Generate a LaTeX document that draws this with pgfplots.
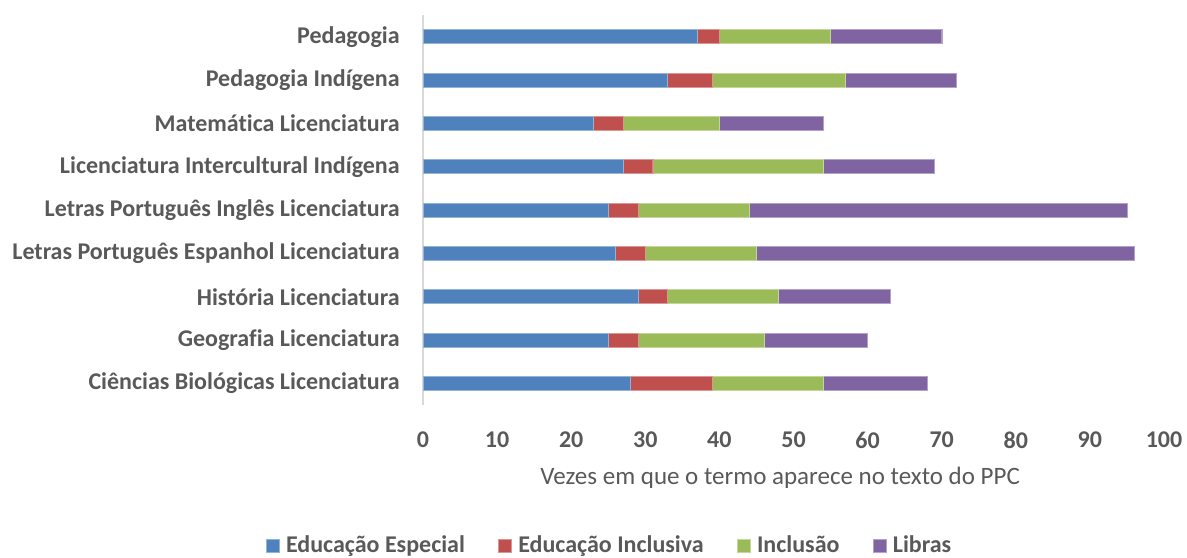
\documentclass[border=0pt]{standalone}
\usepackage{pgfplots}
\pgfplotsset{compat=1.18}
\usepackage{fontspec}
\setmainfont{Carlito}[Ligatures=NoCommon]
\definecolor{txt}{HTML}{595959}
\definecolor{cEE}{HTML}{4F81BD}
\definecolor{cEI}{HTML}{C0504D}
\definecolor{cIN}{HTML}{9BBB59}
\definecolor{cLI}{HTML}{8064A2}
\definecolor{axisgray}{HTML}{D9D9D9}
\begin{document}
\begin{tikzpicture}
\useasboundingbox (0,0) rectangle (593.5pt,278.5pt);
\begin{axis}[
  at={(211.5pt,76pt)}, anchor=south west,
  scale only axis, width=370.5pt, height=195pt,
  xbar stacked, bar width=7pt,
  xmin=0, xmax=100, ymin=-0.5, ymax=8.5,
  xtick={0,10,...,100},
  ytick={0,...,8},
  /pgf/number format/assume math mode=true,
  yticklabels={Ciências Biológicas Licenciatura,Geografia Licenciatura,História Licenciatura,Letras Português Espanhol Licenciatura,Letras Português Inglês Licenciatura,Licenciatura Intercultural Indígena,Matemática Licenciatura,Pedagogia Indígena,Pedagogia},
  axis x line*=bottom,
  x axis line style={draw=none},
  axis y line*=left,
  y axis line style={axisgray, line width=0.8pt, -},
  major tick length=0pt,
  tick style={draw=none},
  xticklabel style={font=\bfseries\fontsize{12}{14}\selectfont, text=txt, anchor=center, yshift=-17.5pt},
  yticklabel style={font=\bfseries\fontsize{12}{14}\selectfont, text=txt, anchor=east, inner sep=0pt, xshift=-11.5pt},
  xlabel={Vezes em que o termo aparece no texto do PPC},
  xlabel style={font=\fontsize{12.5}{14}\selectfont, text=txt, at={(axis description cs:0.482,0)}, anchor=center, yshift=-36.5pt},
  legend columns=4,
  legend style={draw=none, font=\bfseries\fontsize{12}{14}\selectfont, text=txt, at={(axis description cs:0.255,-0.36)}, anchor=center,
    nodes={inner xsep=3.5pt},
    /tikz/every even column/.append style={column sep=13pt}},
  legend image code/.code={\fill[#1] (0pt,-3.2pt) rectangle (6.5pt,3.3pt);},
]
\addplot[fill=cEE, draw=cEE!60!white, line width=0.2pt] coordinates {(28,0) (25,1) (29,2) (26,3) (25,4) (27,5) (23,6) (33,7) (37,8)};
\addplot[fill=cEI, draw=cEI!60!white, line width=0.2pt] coordinates {(11,0) (4,1) (4,2) (4,3) (4,4) (4,5) (4,6) (6,7) (3,8)};
\addplot[fill=cIN, draw=cIN!60!white, line width=0.2pt] coordinates {(15,0) (17,1) (15,2) (15,3) (15,4) (23,5) (13,6) (18,7) (15,8)};
\addplot[fill=cLI, draw=cLI!60!white, line width=0.2pt] coordinates {(14,0) (14,1) (15,2) (51,3) (51,4) (15,5) (14,6) (15,7) (15,8)};
\legend{Educação Especial, Educação Inclusiva, Inclusão, Libras}
\end{axis}
\end{tikzpicture}
\end{document}
